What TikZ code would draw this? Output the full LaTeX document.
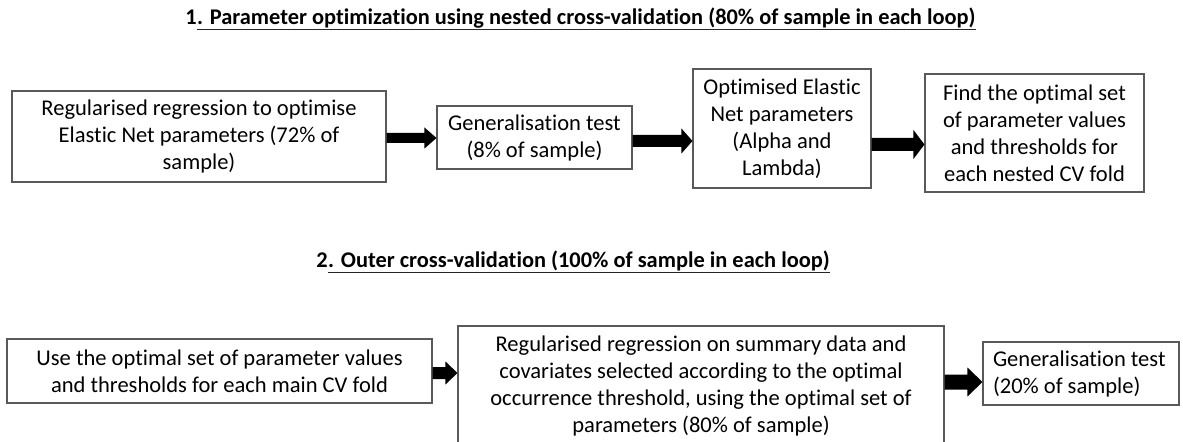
\documentclass[tikz,border=0pt]{standalone}
\usepackage{fontspec}
\setmainfont{Carlito}[Ligatures={NoCommon}]
\usetikzlibrary{calc}
\tikzset{
  boxnode/.style={draw=black!65, line width=0.8pt, rectangle, inner sep=0pt, align=center,
    font=\fontsize{16.9}{20.25}\selectfont},
  titlenode/.style={inner sep=0pt, font=\fontsize{16.8}{19}\selectfont\bfseries},
  uline/.style={line width=1.1pt, black!85},
}
\newcommand\blockarr[6]{%
  \pgfmathsetmacro\bya{#3-#4}\pgfmathsetmacro\byb{#3+#4}%
  \pgfmathsetmacro\byc{#3-#5}\pgfmathsetmacro\byd{#3+#5}%
  \coordinate (tmpH) at ([xshift={-#6*0.75pt}]#2.west);
  \fill[black] (#1.east |- 0,\bya) -- (tmpH |- 0,\bya) -- (tmpH |- 0,\byc) -- (#2.west |- 0,#3)
    -- (tmpH |- 0,\byd) -- (tmpH |- 0,\byb) -- (#1.east |- 0,\byb) -- cycle;}
\begin{document}
\begin{tikzpicture}[x=0.75pt,y=-0.75pt]
\useasboundingbox (0,0) rectangle (1183,442);
\clip (0,0) rectangle (1183,442);
\fill[white] (0,0) rectangle (1183,442);
% titles
\node[titlenode, anchor=base west] (t1n) at (185,25) {1};
\node[titlenode, anchor=base west] (t1r) at (t1n.base east) {. Parameter optimization using nested cross-validation (80\% of sample in each loop)};
\draw[uline] ([yshift=-3.3pt]t1r.base west) -- ([yshift=-3.3pt]t1r.base east);
\node[titlenode, anchor=base west] (t2n) at (316,268) {2};
\node[titlenode, anchor=base west] (t2r) at (t2n.base east) {. Outer cross-validation (100\% of sample in each loop)};
\draw[uline] ([yshift=-3.3pt]t2r.base west) -- ([yshift=-3.3pt]t2r.base east);
% row 1
\node[boxnode, minimum width=280.5pt, minimum height=68.25pt] (A) at (199,136.5)
  {Regularised regression to optimise\\Elastic Net parameters (72\% of\\sample)};
\node[boxnode, minimum width=146.25pt, minimum height=47.25pt] (B) at (534.5,137.5)
  {Generalisation test\\(8\% of sample)};
\node[boxnode, minimum width=133.5pt, minimum height=89.25pt] (C) at (782,128.5)
  {Optimised Elastic\\Net parameters\\(Alpha and\\Lambda)};
\node[boxnode, minimum width=164.25pt, minimum height=88.5pt] (D) at (1034.5,133)
  {Find the optimal set\\of parameter values\\and thresholds for\\each nested CV fold};
% row 2
\node[boxnode, minimum width=318.75pt, minimum height=48pt] (E) at (219.5,371)
  {Use the optimal set of parameter values\\and thresholds for each main CV fold};
\node[boxnode, minimum width=364.5pt, minimum height=89.25pt] (F) at (701,385.5)
  {Regularised regression on summary data and\\covariates selected according to the optimal\\occurrence threshold, using the optimal set of\\parameters (80\% of sample)};
\node[boxnode, align=flush left, inner xsep=7.5pt, text width=132pt, minimum height=47.25pt] (G) at (1081,373.5)
  {Generalisation test\\(20\% of sample)};
% arrows
\blockarr{A}{B}{138}{5}{10.5}{12}
\blockarr{B}{C}{141}{6}{12.5}{11}
\blockarr{C}{D}{144.5}{6.5}{14.5}{11}
\blockarr{E}{F}{373}{6}{11.5}{12}
\blockarr{F}{G}{382}{7.5}{14.5}{15}
\end{tikzpicture}
\end{document}
